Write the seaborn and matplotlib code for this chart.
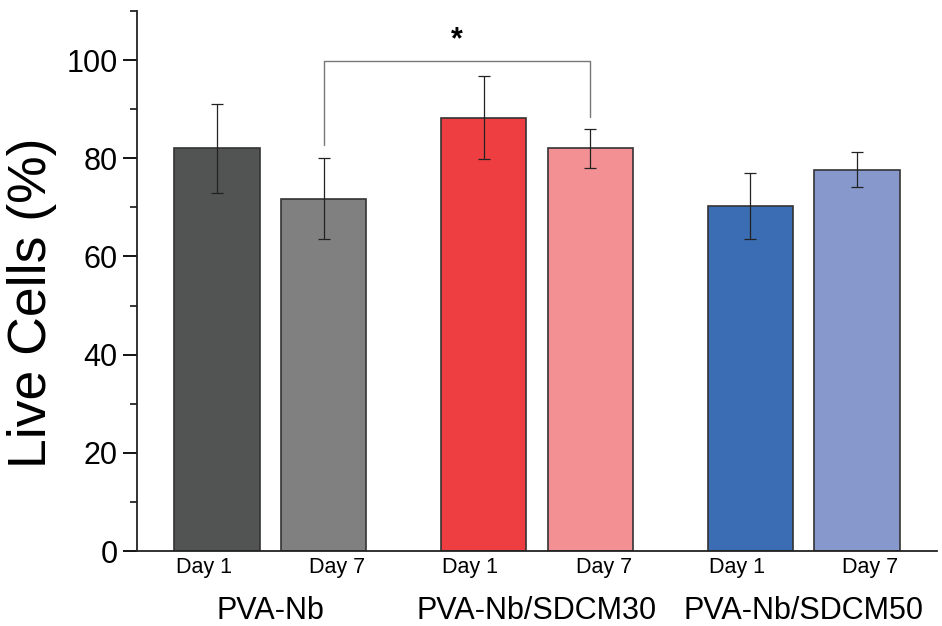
import matplotlib
matplotlib.use("Agg")
import matplotlib.pyplot as plt
import matplotlib.transforms as mtransforms
from matplotlib.ticker import MultipleLocator
import seaborn as sns
import pandas as pd

groups = ["PVA-Nb", "PVA-Nb/SDCM30", "PVA-Nb/SDCM50"]
days = ["Day 1", "Day 7"]
means = [82.0, 71.8, 88.3, 82.0, 70.3, 77.7]
errors = [9.0, 8.3, 8.4, 4.0, 6.7, 3.5]
colors = ["#525453", "#7f807f", "#ef3e42", "#f29093", "#3b6db4", "#8799cc"]
bracket_legs = [82.7, 88.5]
bracket_top = 99.8
star_y = 104.0

sns.set_theme(style="ticks")
plt.rcParams["font.family"] = ["Liberation Sans", "DejaVu Sans"]

df = pd.DataFrame({
    "group": [g for g in groups for _ in days],
    "day": [d for _ in groups for d in days],
    "value": means,
})

fig = plt.figure(figsize=(9.42, 6.26), dpi=100)
ax = fig.add_axes([0.1454, 0.1198, 0.8493, 0.8626])

sns.barplot(data=df, x="group", y="value", hue="day", order=groups,
            hue_order=days, width=0.8, gap=0.2, errorbar=None,
            edgecolor="#333333", linewidth=1.2, legend=False, ax=ax)

bars = sorted(ax.patches, key=lambda p: p.get_x())
xs = []
for p, c in zip(bars, colors):
    p.set_facecolor(c)
    p.set_edgecolor("#333333")
    xs.append(p.get_x() + p.get_width() / 2)

ax.errorbar(xs, means, yerr=errors, fmt="none", ecolor="#222222",
            elinewidth=0.9, capsize=4.3, capthick=0.9, zorder=5)

# significance bracket between bar 2 and bar 4
xl, xr = xs[1], xs[3]
ax.plot([xl, xl, xr, xr], [bracket_legs[0], bracket_top, bracket_top, bracket_legs[1]],
        color="#777777", lw=1.0)
ax.text((xl + xr) / 2, star_y, "*", ha="center", va="center", fontsize=22,
        fontweight="bold", color="black")

ax.set_ylim(0, 110)
ax.set_xlim(-0.5, 2.5)
ax.yaxis.set_major_locator(MultipleLocator(20))
ax.yaxis.set_minor_locator(MultipleLocator(10))
ax.set_yticks([0, 20, 40, 60, 80, 100])
ax.tick_params(axis="y", which="major", direction="out", length=10, width=1.3,
               labelsize=22, colors="black", pad=4)
ax.tick_params(axis="y", which="minor", direction="out", length=5, width=1.3)

# Day labels sit at group centre +/- a quarter of the group spacing
day_pos = [i + off for i in range(len(groups)) for off in (-0.25, 0.25)]
ax.set_xticks(day_pos)
ax.set_xticklabels(days * len(groups), fontsize=15.5)
ax.tick_params(axis="x", length=0, pad=4, labelcolor="black")

trans = mtransforms.blended_transform_factory(ax.transData, ax.transAxes)
for i, g in enumerate(groups):
    ax.text(i, -0.1259, g, transform=trans, ha="center", va="baseline",
            fontsize=22, color="black")

ax.set_xlabel("")
ax.set_ylabel("")
fig.text(32.5 / 942, 1 - 302.5 / 626, "Live Cells (%)", rotation=90,
         ha="center", va="center", fontsize=38.5, color="black")

for s in ["top", "right"]:
    ax.spines[s].set_visible(False)
for s in ["left", "bottom"]:
    ax.spines[s].set_linewidth(1.3)
    ax.spines[s].set_color("#222222")

fig.savefig("out.png", dpi=100)
